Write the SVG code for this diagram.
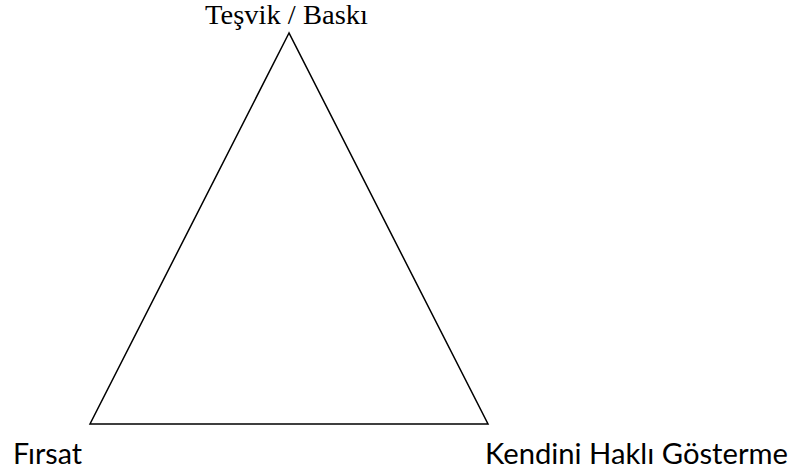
<svg xmlns="http://www.w3.org/2000/svg" width="803" height="476" viewBox="0 0 803 476">
<style>
.serif{font-family:"Liberation Serif","Times New Roman",serif;font-size:27px;fill:#000}
.sans{font-family:Lato,"Open Sans","Liberation Sans",sans-serif;font-size:28px;fill:#000}
.edge{fill:none;stroke:#000;stroke-width:1.5;stroke-linejoin:miter}
</style>
<rect width="803" height="476" fill="#fff"/>
<g id="connectors">
<polygon class="edge" points="289,33 90,424 488,424"/>
</g>
<g id="node-top"><text class="serif" x="205" y="24" textLength="163" lengthAdjust="spacingAndGlyphs">Teşvik / Baskı</text></g>
<g id="node-left"><text class="sans" x="13" y="464" textLength="69" lengthAdjust="spacingAndGlyphs">Fırsat</text></g>
<g id="node-right"><text class="sans" x="485" y="464" textLength="303" lengthAdjust="spacingAndGlyphs">Kendini Haklı Gösterme</text></g>
</svg>
